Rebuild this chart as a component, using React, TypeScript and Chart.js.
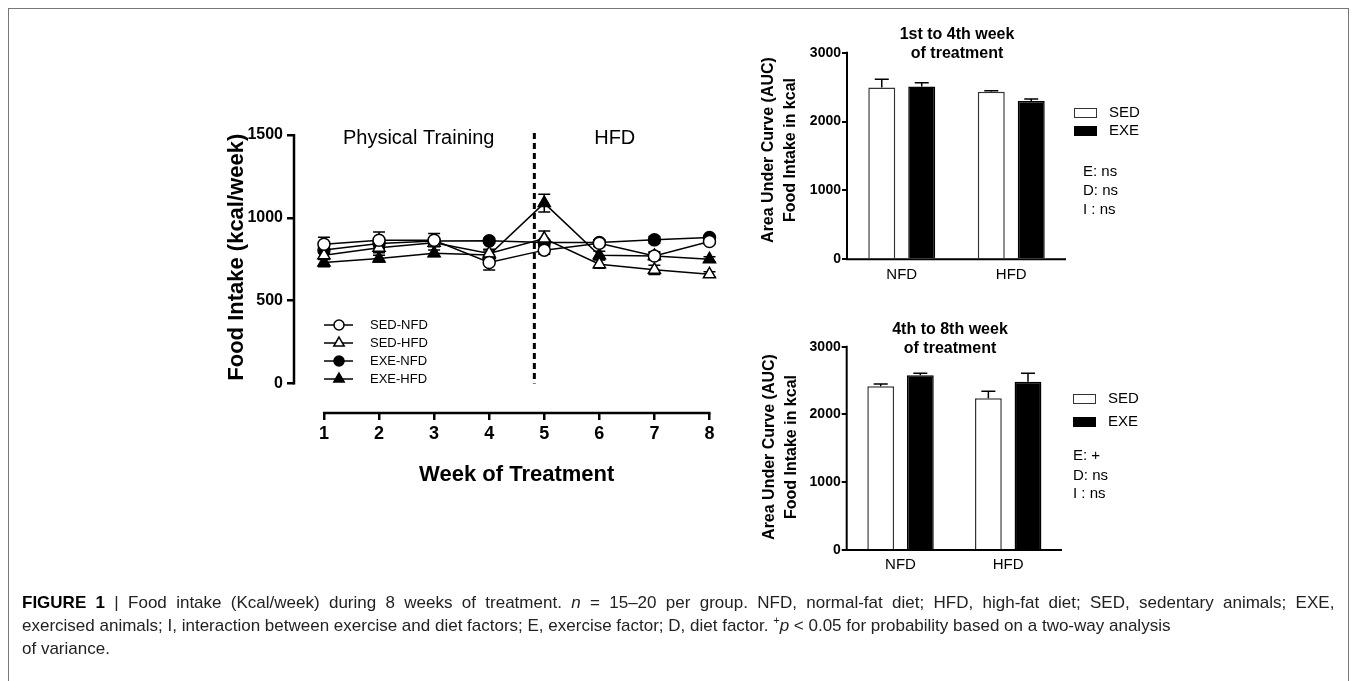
import React, { useEffect, useRef } from "react";
import { Chart, registerables } from "chart.js";

Chart.register(...registerables);

const FONT = "'Liberation Sans', Arial, Helvetica, sans-serif";

// ---------- Line chart data ----------
const weeks = [1, 2, 3, 4, 5, 6, 7, 8];
const lineSeriesNames = ["SED-NFD", "SED-HFD", "EXE-NFD", "EXE-HFD"];
const sedNfd = [841, 865, 865, 730, 805, 847, 770, 857];
const sedHfd = [774, 820, 850, 785, 875, 720, 686, 659];
const exeNfd = [806, 845, 860, 861, 851, 851, 867, 881];
const exeHfd = [730, 754, 786, 775, 1089, 774, 770, 750];
const sedNfdErr = [42, 50, 40, 45, 25, 20, 25, 15];
const sedHfdErr = [25, 30, 20, 25, 46, 25, 28, 15];
const exeNfdErr = [20, 20, 15, 15, 15, 15, 20, 10];
const exeHfdErr = [25, 20, 20, 25, 54, 25, 20, 15];
const lineYTicks = [0, 500, 1000, 1500];
const dietSwitchWeek = 4.82;

// ---------- Bar chart data ----------
const dietGroups = ["NFD", "HFD"];
const barSeriesNames = ["SED", "EXE"];
const aucW1to4Sed = [2496, 2432];
const aucW1to4SedErr = [120, 15];
const aucW1to4Exe = [2510, 2297];
const aucW1to4ExeErr = [53, 29];
const aucW4to8Sed = [2415, 2238];
const aucW4to8SedErr = [34, 103];
const aucW4to8Exe = [2577, 2483];
const aucW4to8ExeErr = [30, 124];
const barYTicks = [0, 1000, 2000, 3000];
const statsW1to4 = ["E: ns", "D: ns", "I : ns"];
const statsW4to8 = ["E: +", "D: ns", "I : ns"];

function drawMarker(ctx: CanvasRenderingContext2D, style: string, x: number, y: number, r: number, fill: string) {
  ctx.beginPath();
  if (style === "circle") {
    ctx.arc(x, y, r, 0, Math.PI * 2);
  } else {
    for (let k = 0; k < 3; k++) {
      const a = -Math.PI / 2 + (k * 2 * Math.PI) / 3;
      const px = x + Math.cos(a) * r;
      const py = y + Math.sin(a) * r;
      if (k === 0) ctx.moveTo(px, py);
      else ctx.lineTo(px, py);
    }
  }
  ctx.closePath();
  ctx.fillStyle = fill;
  ctx.fill();
  ctx.stroke();
}

const markerStyles = ["circle", "triangle", "circle", "triangle"];
const markerFills = ["#fff", "#fff", "#000", "#000"];

function LineChart() {
  const ref = useRef<HTMLCanvasElement>(null);
  useEffect(() => {
    const canvas = ref.current!;
    const values = [sedNfd, sedHfd, exeNfd, exeHfd];
    const errs = [sedNfdErr, sedHfdErr, exeNfdErr, exeHfdErr];
    const datasets = lineSeriesNames.map((name, s) => ({
      label: name,
      data: weeks.map((w, i) => ({ x: w, y: values[s][i] })),
      errors: errs[s],
      borderColor: "#000",
      borderWidth: 1.5,
      pointStyle: markerStyles[s],
      pointRadius: markerStyles[s] === "circle" ? 6 : 7,
      pointBackgroundColor: markerFills[s],
      pointBorderColor: "#000",
      pointBorderWidth: 1.5,
      tension: 0,
      fill: false,
      clip: false,
    }));

    const decor = {
      id: "lineDecor",
      beforeDatasetsDraw(chart: any) {
        const { ctx } = chart;
        const xs = chart.scales.x;
        const ys = chart.scales.y;
        ctx.save();
        ctx.strokeStyle = "#000";
        ctx.lineWidth = 3;
        ctx.setLineDash([6, 4]);
        const dx = xs.getPixelForValue(dietSwitchWeek);
        ctx.beginPath();
        ctx.moveTo(dx, ys.getPixelForValue(1512));
        ctx.lineTo(dx, ys.getPixelForValue(0));
        ctx.stroke();
        ctx.setLineDash([]);
        ctx.lineWidth = 1.5;
        chart.data.datasets.forEach((ds: any) => {
          ds.data.forEach((p: any, i: number) => {
            const e = ds.errors[i];
            const x = xs.getPixelForValue(p.x);
            const y1 = ys.getPixelForValue(p.y + e);
            const y2 = ys.getPixelForValue(p.y - e);
            ctx.beginPath();
            ctx.moveTo(x, y1);
            ctx.lineTo(x, y2);
            ctx.moveTo(x - 6, y1);
            ctx.lineTo(x + 6, y1);
            ctx.moveTo(x - 6, y2);
            ctx.lineTo(x + 6, y2);
            ctx.stroke();
          });
        });
        ctx.restore();
      },
      afterDraw(chart: any) {
        const { ctx, chartArea } = chart;
        const xs = chart.scales.x;
        const ys = chart.scales.y;
        ctx.save();
        ctx.strokeStyle = "#000";
        ctx.fillStyle = "#000";
        ctx.lineWidth = 2.5;
        ctx.beginPath();
        ctx.moveTo(chartArea.left, ys.getPixelForValue(lineYTicks[lineYTicks.length - 1]) - 1);
        ctx.lineTo(chartArea.left, ys.getPixelForValue(0) + 1);
        ctx.stroke();
        ctx.beginPath();
        ctx.moveTo(xs.getPixelForValue(weeks[0]) - 1, chartArea.bottom);
        ctx.lineTo(xs.getPixelForValue(weeks[weeks.length - 1]) + 1, chartArea.bottom);
        ctx.stroke();
        ctx.font = `20px ${FONT}`;
        ctx.textAlign = "center";
        ctx.textBaseline = "middle";
        ctx.fillText("Physical Training", xs.getPixelForValue(2.72), ys.getPixelForValue(1480));
        ctx.fillText("HFD", xs.getPixelForValue(6.28), ys.getPixelForValue(1480));
        ctx.font = `bold 22px ${FONT}`;
        ctx.fillText(
          "Week of Treatment",
          (xs.getPixelForValue(1) + xs.getPixelForValue(8)) / 2,
          chartArea.bottom + 62
        );
        ctx.save();
        ctx.translate(37, (ys.getPixelForValue(0) + ys.getPixelForValue(1500)) / 2 - 2);
        ctx.rotate(-Math.PI / 2);
        ctx.fillText("Food Intake (kcal/week)", 0, 0);
        ctx.restore();
        const y0 = ys.getPixelForValue(0);
        const lx = chartArea.left + 30;
        lineSeriesNames.forEach((name, i) => {
          const ly = y0 - 4.5 - (3 - i) * 18;
          ctx.lineWidth = 1.5;
          ctx.strokeStyle = "#000";
          ctx.beginPath();
          ctx.moveTo(lx, ly);
          ctx.lineTo(lx + 29, ly);
          ctx.stroke();
          drawMarker(ctx, markerStyles[i], lx + 15, ly, markerStyles[i] === "circle" ? 5 : 6, markerFills[i]);
          ctx.fillStyle = "#000";
          ctx.font = `13px ${FONT}`;
          ctx.textAlign = "left";
          ctx.fillText(name, lx + 46, ly);
        });
        ctx.restore();
      },
    };

    const chart = new Chart(canvas, {
      type: "line",
      data: { datasets: datasets as any },
      options: {
        responsive: false,
        animation: false,
        layout: { padding: { top: 35, right: 25, left: 0, bottom: 0 } },
        plugins: { legend: { display: false }, tooltip: { enabled: false }, title: { display: false } },
        scales: {
          x: {
            type: "linear",
            min: 0.456,
            max: 8.1,
            afterBuildTicks: (s: any) => {
              s.ticks = weeks.map((v) => ({ value: v }));
            },
            grid: { display: true, drawOnChartArea: false, drawTicks: true, tickLength: 7, color: "#000", lineWidth: 2.5 },
            border: { display: false },
            ticks: {
              font: { family: FONT, size: 18, weight: "bold" },
              color: "#000",
              padding: 3,
              maxRotation: 0,
              callback: (v: any) => String(v),
            },
            afterFit: (s: any) => {
              s.height = 107;
            },
          },
          y: {
            type: "linear",
            min: -178,
            max: 1500,
            afterBuildTicks: (s: any) => {
              s.ticks = lineYTicks.map((v) => ({ value: v }));
            },
            grid: { display: true, drawOnChartArea: false, drawTicks: true, tickLength: 7, color: "#000", lineWidth: 2.5 },
            border: { display: false },
            ticks: {
              font: { family: FONT, size: 16, weight: "bold" },
              color: "#000",
              padding: 4,
              callback: (v: any) => String(v),
            },
            afterFit: (s: any) => {
              s.width = 94;
            },
          },
        },
      } as any,
      plugins: [decor],
    });
    return () => chart.destroy();
  }, []);
  return (
    <canvas
      ref={ref}
      width={540}
      height={420}
      style={{ position: "absolute", left: 200, top: 100, width: 540, height: 420 }}
    />
  );
}

type BarProps = {
  left: number;
  top: number;
  areaTop: number;
  areaBottom: number;
  areaRight: number;
  yWidth: number;
  titleLines: string[];
  titleX: number;
  titleY: number;
  yTitleX: number;
  yTitleY: number;
  sed: number[];
  sedErr: number[];
  exe: number[];
  exeErr: number[];
  legendX: number;
  legendY: number[];
  stats: string[];
  statsX: number;
  statsY: number[];
  catPct: number;
  barPct: number;
  labelPad: number;
};

const W = 420;
const H = 290;

function BarChart(p: BarProps) {
  const ref = useRef<HTMLCanvasElement>(null);
  useEffect(() => {
    const canvas = ref.current!;
    const decor = {
      id: "barDecor",
      afterDatasetsDraw(chart: any) {
        const { ctx } = chart;
        const ys = chart.scales.y;
        ctx.save();
        ctx.strokeStyle = "#000";
        ctx.lineWidth = 1.5;
        chart.data.datasets.forEach((ds: any, di: number) => {
          const meta = chart.getDatasetMeta(di);
          meta.data.forEach((el: any, i: number) => {
            const v = ds.data[i];
            const yt = ys.getPixelForValue(v + ds.errors[i]);
            ctx.beginPath();
            ctx.moveTo(el.x, el.y);
            ctx.lineTo(el.x, yt);
            ctx.moveTo(el.x - 7, yt);
            ctx.lineTo(el.x + 7, yt);
            ctx.stroke();
          });
        });
        ctx.restore();
      },
      afterDraw(chart: any) {
        const { ctx, chartArea } = chart;
        const ys = chart.scales.y;
        ctx.save();
        ctx.strokeStyle = "#000";
        ctx.fillStyle = "#000";
        ctx.lineWidth = 2;
        ctx.beginPath();
        ctx.moveTo(chartArea.left, ys.getPixelForValue(barYTicks[barYTicks.length - 1]) - 1);
        ctx.lineTo(chartArea.left, ys.getPixelForValue(0));
        ctx.lineTo(chartArea.right, ys.getPixelForValue(0));
        ctx.stroke();
        ctx.font = `bold 16px ${FONT}`;
        ctx.textAlign = "center";
        ctx.textBaseline = "middle";
        p.titleLines.forEach((t, i) => ctx.fillText(t, p.titleX, p.titleY + i * 19));
        ctx.save();
        ctx.translate(p.yTitleX, p.yTitleY);
        ctx.rotate(-Math.PI / 2);
        ctx.fillText("Area Under Curve (AUC)", 0, 0);
        ctx.fillText("Food Intake in kcal", 0, 22);
        ctx.restore();
        ctx.font = `15px ${FONT}`;
        ctx.textAlign = "left";
        barSeriesNames.forEach((name, i) => {
          const ly = p.legendY[i];
          ctx.lineWidth = 1;
          ctx.fillStyle = i === 0 ? "#fff" : "#000";
          ctx.strokeStyle = i === 0 ? "#333" : "#000";
          ctx.fillRect(p.legendX, ly - 5, 23, 10);
          ctx.strokeRect(p.legendX + 0.5, ly - 4.5, 22, 9);
          ctx.fillStyle = "#000";
          ctx.fillText(name, p.legendX + 35, ly);
        });
        p.stats.forEach((s, i) => ctx.fillText(s, p.statsX, p.statsY[i]));
        ctx.restore();
      },
    };
    const chart = new Chart(canvas, {
      type: "bar",
      data: {
        labels: dietGroups,
        datasets: [
          {
            label: barSeriesNames[0],
            data: p.sed,
            errors: p.sedErr,
            backgroundColor: "#fff",
            borderColor: "#333",
            borderWidth: 1.5,
            categoryPercentage: p.catPct,
            barPercentage: p.barPct,
          },
          {
            label: barSeriesNames[1],
            data: p.exe,
            errors: p.exeErr,
            backgroundColor: "#000",
            borderColor: "#000",
            borderWidth: 1.5,
            categoryPercentage: p.catPct,
            barPercentage: p.barPct,
          },
        ] as any,
      },
      options: {
        responsive: false,
        animation: false,
        layout: { padding: { top: p.areaTop, right: W - p.areaRight, left: 0, bottom: 0 } },
        plugins: { legend: { display: false }, tooltip: { enabled: false }, title: { display: false } },
        scales: {
          x: {
            grid: { display: false, drawTicks: false },
            border: { display: false },
            ticks: { font: { family: FONT, size: 15 }, color: "#000", padding: p.labelPad },
            afterFit: (s: any) => {
              s.height = H - p.areaBottom;
            },
          },
          y: {
            min: 0,
            max: 3000,
            afterBuildTicks: (s: any) => {
              s.ticks = barYTicks.map((v) => ({ value: v }));
            },
            grid: { display: true, drawOnChartArea: false, drawTicks: true, tickLength: 5, color: "#000", lineWidth: 2 },
            border: { display: false },
            ticks: {
              font: { family: FONT, size: 14, weight: "bold" },
              color: "#000",
              padding: 1,
              callback: (v: any) => String(v),
            },
            afterFit: (s: any) => {
              s.width = p.yWidth;
            },
          },
        },
      } as any,
      plugins: [decor],
    });
    return () => chart.destroy();
  }, []);
  return (
    <canvas
      ref={ref}
      width={W}
      height={H}
      style={{ position: "absolute", left: p.left, top: p.top, width: W, height: H }}
    />
  );
}

export default function App() {
  return (
    <div style={{ position: "absolute", left: 0, top: 0, width: 1357, height: 681, overflow: "hidden", background: "#fff" }}>
      <div
        style={{
          position: "absolute",
          left: 8,
          top: 8,
          width: 1341,
          height: 720,
          border: "1.5px solid #777",
          boxSizing: "border-box",
        }}
      />
      <LineChart />
      <BarChart
        left={740}
        top={10}
        areaTop={42.7}
        areaBottom={249.3}
        areaRight={326}
        yWidth={107}
        titleLines={["1st to 4th week", "of treatment"]}
        titleX={217}
        titleY={25}
        yTitleX={29}
        yTitleY={140}
        sed={aucW1to4Sed}
        sedErr={aucW1to4SedErr}
        exe={aucW1to4Exe}
        exeErr={aucW1to4ExeErr}
        legendX={334}
        legendY={[103, 121]}
        stats={statsW1to4}
        statsX={343}
        statsY={[162, 181, 200]}
        catPct={0.73}
        barPct={0.675}
        labelPad={7}
      />
      <BarChart
        left={740}
        top={320}
        areaTop={26.7}
        areaBottom={230}
        areaRight={322}
        yWidth={106.7}
        titleLines={["4th to 8th week", "of treatment"]}
        titleX={210}
        titleY={10}
        yTitleX={30}
        yTitleY={127}
        sed={aucW4to8Sed}
        sedErr={aucW4to8SedErr}
        exe={aucW4to8Exe}
        exeErr={aucW4to8ExeErr}
        legendX={333}
        legendY={[79, 102]}
        stats={statsW4to8}
        statsX={333}
        statsY={[136, 156, 174]}
        catPct={0.736}
        barPct={0.677}
        labelPad={6}
      />
      <div
        style={{
          position: "absolute",
          left: 22,
          top: 591,
          fontFamily: FONT,
          fontSize: 17,
          lineHeight: "23px",
          color: "#222",
          whiteSpace: "nowrap",
        }}
      >
        <span style={{ wordSpacing: "4.6px" }}>
          <b style={{ color: "#000" }}>FIGURE 1</b> | Food intake (Kcal/week) during 8 weeks of treatment.{" "}
          <i>n</i> = 15–20 per group. NFD, normal-fat diet; HFD, high-fat diet; SED, sedentary animals; EXE,
        </span>
        <br />
        exercised animals; I, interaction between exercise and diet factors; E, exercise factor; D, diet factor.{" "}
        <span style={{ fontSize: 11, verticalAlign: "super", lineHeight: 0 }}>+</span>
        <i>p</i> &lt; 0.05 for probability based on a two-way analysis
        <br />
        of variance.
      </div>
    </div>
  );
}
